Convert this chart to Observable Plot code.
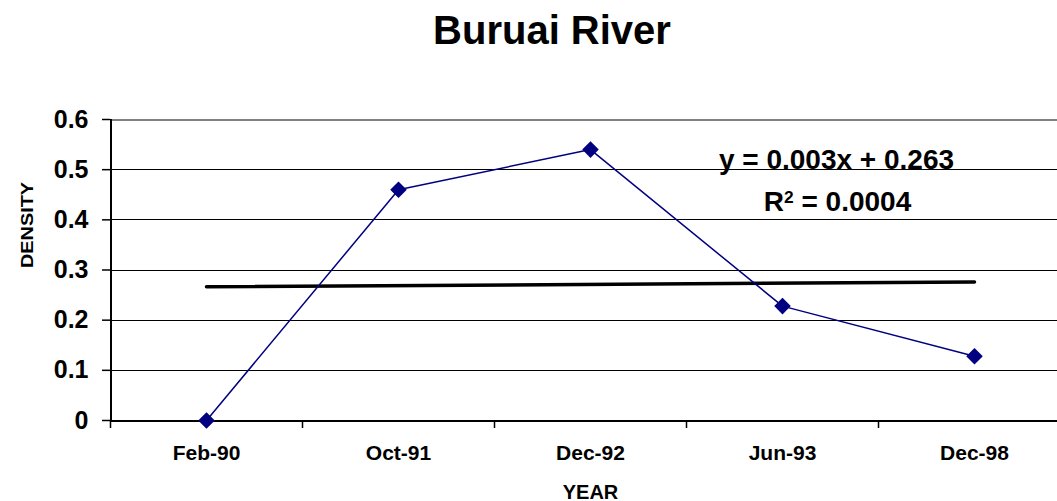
<!DOCTYPE html>
<html>
<head>
<meta charset="utf-8">
<script src="https://cdn.jsdelivr.net/npm/d3@7"></script>
<script src="https://cdn.jsdelivr.net/npm/@observablehq/plot@0.6"></script>
<style>
  html, body { margin: 0; padding: 0; background: #fff; }
  #chart svg { font-family: "Liberation Sans", Arial, sans-serif; font-weight: bold; }
</style>
</head>
<body>
<div id="chart"></div>
<script>
const title = "Buruai River";
const categories = ["Feb-90", "Oct-91", "Dec-92", "Jun-93", "Dec-98"];
const density = [0, 0.46, 0.54, 0.228, 0.128];
const yTicks = [0, 0.1, 0.2, 0.3, 0.4, 0.5, 0.6];
const equationLines = ["y = 0.003x + 0.263", "R² = 0.0004"];
const xLabel = "YEAR";
const yLabel = "DENSITY";

const data = categories.map((c, i) => ({ i, category: c, value: density[i] }));
const bandEdges = categories.map((_, i) => i - 0.5).concat([categories.length - 0.5]);
const idx = categories.map((_, i) => i);

const W = 1057, H = 501;
const navy = "#000080";

const chart = Plot.plot({
  width: W,
  height: H,
  marginTop: 119,
  marginBottom: 81,
  marginLeft: 110,
  marginRight: 0,
  style: { background: "#fff", overflow: "visible" },
  x: { type: "linear", domain: [-0.5, categories.length - 0.5], range: [110, 1070] },
  y: { domain: [0, 0.6] },
  marks: [
    Plot.gridY(yTicks.slice(0, -1), { stroke: "#000", strokeOpacity: 1, strokeWidth: 1, shapeRendering: "crispEdges" }),
    Plot.gridY(yTicks.slice(-1), { stroke: "#808080", strokeOpacity: 1, strokeWidth: 2, shapeRendering: "crispEdges" }),
    Plot.ruleY([0], { stroke: "#000", strokeWidth: 2, shapeRendering: "crispEdges" }),
    Plot.ruleX([bandEdges[0]], { stroke: "#000", strokeWidth: 2, shapeRendering: "crispEdges" }),
    Plot.axisY({ ticks: yTicks, tickSize: 8, tickPadding: 14, fontSize: 25, fontWeight: "bold", fill: "#000", stroke: "#000", strokeWidth: 1.5, label: null, tickFormat: d3.format("") }),
    Plot.axisX({ ticks: bandEdges, tickSize: 8, stroke: "#000", strokeWidth: 1.5, tickFormat: () => "", label: null }),
    Plot.axisX({ ticks: idx, tickSize: 0, tickPadding: 25, fontSize: 21, fontWeight: "bold", fill: "#000", tickFormat: (d) => categories[d], label: null }),
    Plot.linearRegressionY(data, { x: "i", y: "value", ci: 0, stroke: "#000", strokeWidth: 3.5 }),
    Plot.line(data, { x: "i", y: "value", stroke: navy, strokeWidth: 1.5 }),
    Plot.dot(data, { x: "i", y: "value", symbol: "diamond2", r: 6.5, fill: navy, stroke: navy }),
    Plot.text([title], { frameAnchor: "top", dx: -32, dy: -76, lineAnchor: "bottom", fontSize: 40, fontWeight: "bold", fill: "#000" }),
    Plot.text([equationLines[0]], { frameAnchor: "top-left", dx: 726, dy: 49, lineAnchor: "bottom", textAnchor: "middle", fontSize: 28, fontWeight: "bold", fill: "#000" }),
    Plot.text([equationLines[1]], { frameAnchor: "top-left", dx: 727, dy: 91, lineAnchor: "bottom", textAnchor: "middle", fontSize: 28, fontWeight: "bold", fill: "#000", className: "r2" }),
    Plot.text([xLabel], { frameAnchor: "bottom", dx: 6.5, dy: 78, lineAnchor: "bottom", fontSize: 20, fontWeight: "bold", fill: "#000" }),
    Plot.text([yLabel], { frameAnchor: "left", dx: -83, dy: -2, rotate: -90, lineAnchor: "middle", fontSize: 16, fontWeight: "bold", fill: "#000", className: "ylab" })
  ]
});
document.getElementById("chart").appendChild(chart);

// stretch the y label like the reference
d3.select(chart).selectAll("g.ylab text").attr("textLength", 86).attr("lengthAdjust", "spacingAndGlyphs");
// superscript 2 in the R² line
d3.select(chart).selectAll("g.r2 text").each(function () {
  const t = d3.select(this);
  const s = t.text();
  const k = s.indexOf("²");
  if (k < 0) return;
  t.text(null);
  t.append("tspan").text(s.slice(0, k));
  t.append("tspan").attr("dy", "-0.45em").attr("font-size", "0.62em").text("2");
  t.append("tspan").attr("dy", "0.28em").text(" " + s.slice(k + 1).trimStart());
});
</script>
</body>
</html>
